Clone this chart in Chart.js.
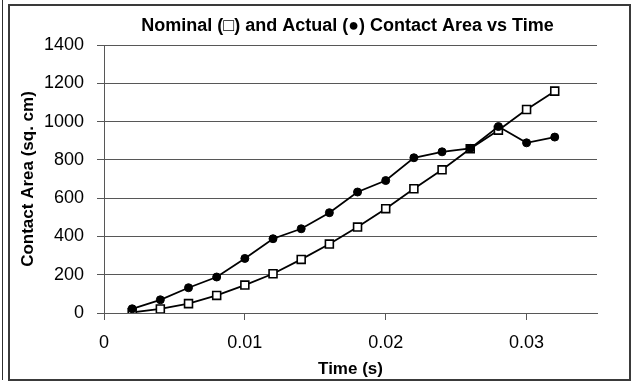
<!DOCTYPE html>
<html>
<head>
<meta charset="utf-8">
<script src="https://cdn.jsdelivr.net/npm/chart.js@4.4.0/dist/chart.umd.min.js"></script>
<style>
  html, body { margin: 0; padding: 0; background: #fff; width: 637px; height: 381px; overflow: hidden; }
  #edge { position: absolute; left: 2px; top: 0; width: 1px; height: 380px; background: #2e2e2e; }
  #frame { position: absolute; left: 8px; top: 4px; width: 623px; height: 377px; box-sizing: border-box; border: 2px solid #3a3a3a; }
  #plot { position: absolute; left: 0; top: 0; }
</style>
</head>
<body>
<div id="edge"></div>
<div id="frame"></div>
<canvas id="plot" width="637" height="381"></canvas>
<script>
// Sampling times (s)
const times = [0.002, 0.004, 0.006, 0.008, 0.010, 0.012, 0.014, 0.016,
               0.018, 0.020, 0.022, 0.024, 0.026, 0.028, 0.030, 0.032];
// Nominal contact area (sq. cm), open squares
const nominalArea = [3, 21, 49, 92, 146, 205, 280, 360, 449, 545, 649, 748, 858, 955, 1063, 1159];
// Actual contact area (sq. cm), filled circles
const actualArea = [22, 69, 132, 188, 285, 388, 440, 524, 632, 692, 811, 842, 860, 974, 889, 919];
// Axis ticks
const xTicks = [0, 0.01, 0.02, 0.03];
const yTicks = [0, 200, 400, 600, 800, 1000, 1200, 1400];

const chartTitle = 'Nominal (\u25A1) and Actual (\u25CF) Contact Area vs Time';
const FONT = '"Liberation Sans", Arial, sans-serif';
const GRID = '#575757';

const toPoints = ys => times.map((t, i) => ({ x: t, y: ys[i] }));

const titlePlugin = {
  id: 'topTitle',
  afterDraw(chart) {
    const { ctx, chartArea } = chart;
    ctx.save();
    ctx.font = 'bold 18px ' + FONT;
    ctx.fillStyle = '#000';
    ctx.textAlign = 'center';
    ctx.textBaseline = 'alphabetic';
    ctx.fillText(chartTitle, (chartArea.left + chartArea.right) / 2 - 3, 31);
    ctx.restore();
  }
};

new Chart(document.getElementById('plot'), {
  type: 'line',
  data: {
    datasets: [
      {
        label: 'Actual',
        data: toPoints(actualArea),
        borderColor: '#000',
        borderWidth: 1.8,
        pointStyle: 'circle',
        pointRadius: 4,
        pointBackgroundColor: '#000',
        pointBorderColor: '#000',
        pointBorderWidth: 1,
        tension: 0
      },
      {
        label: 'Nominal',
        data: toPoints(nominalArea),
        borderColor: '#000',
        borderWidth: 1.8,
        pointStyle: 'rect',
        pointRadius: 5.6,
        pointBackgroundColor: '#fff',
        pointBorderColor: '#000',
        pointBorderWidth: 1.6,
        tension: 0
      }
    ]
  },
  options: {
    responsive: false,
    animation: false,
    devicePixelRatio: 1,
    layout: { padding: { left: 0, right: 40, top: 45, bottom: 0 } },
    plugins: { legend: { display: false }, tooltip: { enabled: false }, title: { display: false } },
    scales: {
      x: {
        type: 'linear',
        min: 0,
        max: 0.035,
        afterBuildTicks: s => { s.ticks = xTicks.map(v => ({ value: v })); },
        afterFit: s => { s.height = 68; },
        grid: { drawOnChartArea: false, drawTicks: true, tickLength: 7, color: GRID, lineWidth: 1 },
        border: { display: true, color: GRID, width: 1 },
        ticks: {
          padding: 12,
          color: '#000',
          font: { family: FONT, size: 18 },
          maxRotation: 0,
          callback: v => String(v)
        },
        title: {
          display: true,
          text: 'Time (s)',
          color: '#000',
          font: { family: FONT, size: 17, weight: 'bold' },
          padding: { top: 0, bottom: 1 }
        }
      },
      y: {
        type: 'linear',
        min: 0,
        max: 1400,
        afterBuildTicks: s => { s.ticks = yTicks.map(v => ({ value: v })); },
        afterFit: s => { s.width = 104; },
        grid: { drawOnChartArea: true, drawTicks: true, tickLength: 7, color: GRID, lineWidth: 1 },
        border: { display: true, color: GRID, width: 1 },
        ticks: {
          padding: 13,
          color: '#000',
          font: { family: FONT, size: 18 },
          callback: v => String(v)
        },
        title: {
          display: true,
          text: 'Contact Area (sq. cm)',
          color: '#000',
          font: { family: FONT, size: 17, weight: 'bold' },
          padding: { top: 18, bottom: 0 }
        }
      }
    }
  },
  plugins: [titlePlugin]
});
</script>
</body>
</html>
